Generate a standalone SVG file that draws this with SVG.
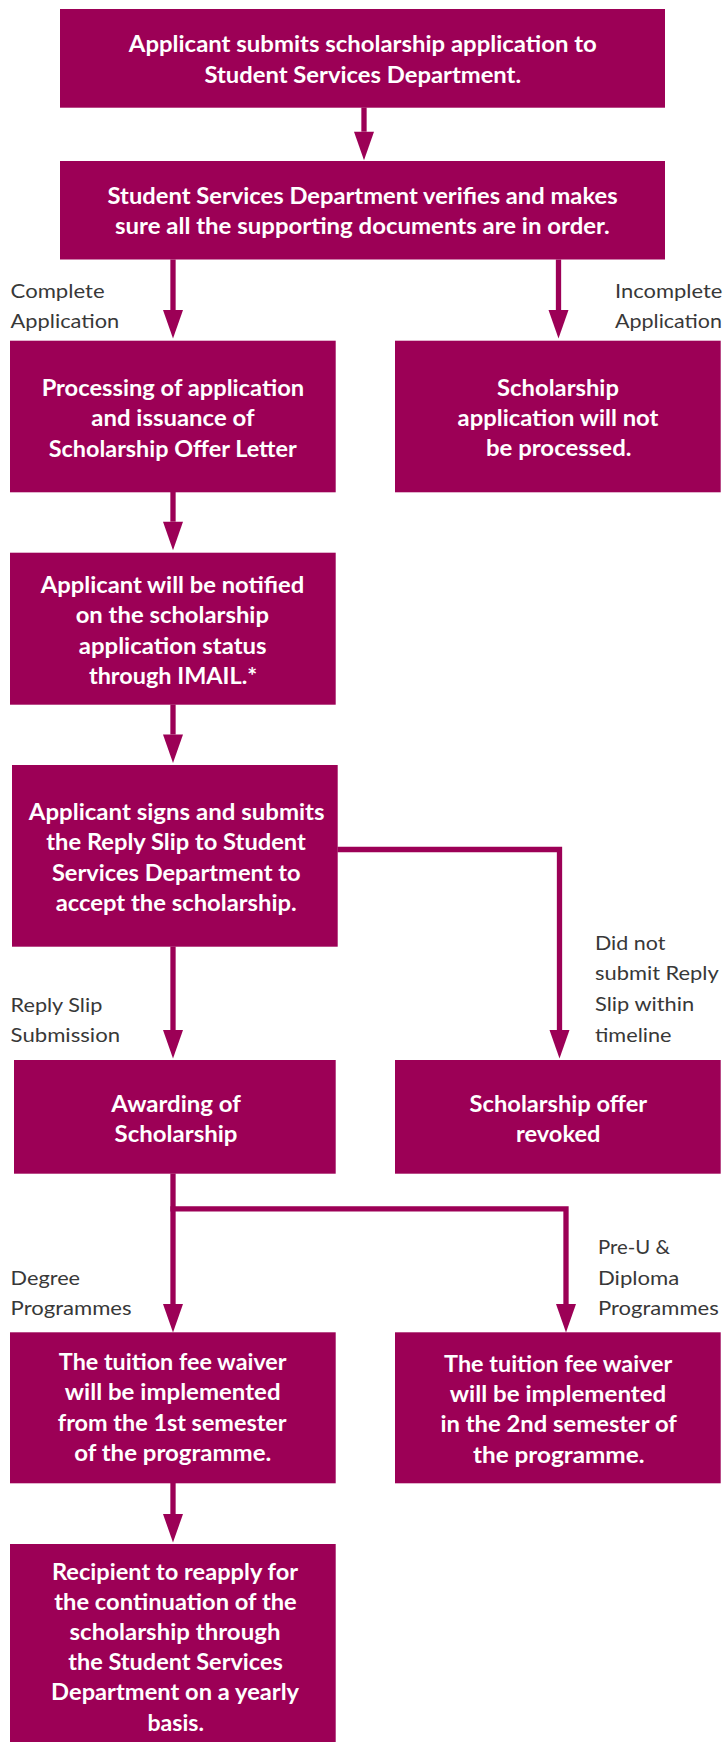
<svg xmlns="http://www.w3.org/2000/svg" width="727" height="1742" viewBox="0 0 727 1742">
<style>
.box{fill:#9C0056}
.t{font-family:Lato,"Liberation Sans",sans-serif;font-weight:700;font-size:22px;fill:#ffffff;text-anchor:middle}
.l{font-family:Lato,"Liberation Sans",sans-serif;font-weight:400;font-size:20px;fill:#383838}
.c{fill:none;stroke:#9C0056;stroke-width:5.3}
</style>
<defs>
<marker id="ah" markerUnits="userSpaceOnUse" markerWidth="30" markerHeight="22" refX="0" refY="11" orient="auto" overflow="visible">
<path d="M0,1 L28.5,11 L0,21 Z" fill="#9C0056"/>
</marker>
</defs>
<rect width="727" height="1742" fill="#ffffff"/>
<g id="connectors">
<path class="c" d="M364,107.5 V131.7" marker-end="url(#ah)"/>
<path class="c" d="M173,259.5 V310" marker-end="url(#ah)"/>
<path class="c" d="M558.5,259.5 V310" marker-end="url(#ah)"/>
<path class="c" d="M173,492 V521.7" marker-end="url(#ah)"/>
<path class="c" d="M173,704.5 V734.5" marker-end="url(#ah)"/>
<path class="c" d="M173,946.5 V1030" marker-end="url(#ah)"/>
<path class="c" d="M337.5,849.5 H559.5 V1030" marker-end="url(#ah)"/>
<path class="c" d="M173,1173.5 V1304" marker-end="url(#ah)"/>
<path class="c" d="M170.4,1208.8 H566 V1304" marker-end="url(#ah)"/>
<path class="c" d="M173,1483 V1514" marker-end="url(#ah)"/>
</g>
<g id="labels">
<text class="l" x="10.6" y="298.3" textLength="94" lengthAdjust="spacingAndGlyphs">Complete</text>
<text class="l" x="10.6" y="328.3" textLength="108.6" lengthAdjust="spacingAndGlyphs">Application</text>
<text class="l" x="615" y="298.3" textLength="107.3" lengthAdjust="spacingAndGlyphs">Incomplete</text>
<text class="l" x="615" y="328.3" textLength="107" lengthAdjust="spacingAndGlyphs">Application</text>
<text class="l" x="10.6" y="1011.5" textLength="91.7" lengthAdjust="spacingAndGlyphs">Reply Slip</text>
<text class="l" x="10.6" y="1042" textLength="109.5" lengthAdjust="spacingAndGlyphs">Submission</text>
<text class="l" x="595" y="950" textLength="70.4" lengthAdjust="spacingAndGlyphs">Did not</text>
<text class="l" x="595" y="980" textLength="123.8" lengthAdjust="spacingAndGlyphs">submit Reply</text>
<text class="l" x="595" y="1010.5" textLength="99.2" lengthAdjust="spacingAndGlyphs">Slip within</text>
<text class="l" x="595" y="1041.5" textLength="76.5" lengthAdjust="spacingAndGlyphs">timeline</text>
<text class="l" x="10.6" y="1285" textLength="69.5" lengthAdjust="spacingAndGlyphs">Degree</text>
<text class="l" x="10.6" y="1315" textLength="121" lengthAdjust="spacingAndGlyphs">Programmes</text>
<text class="l" x="598" y="1254" textLength="71.9" lengthAdjust="spacingAndGlyphs">Pre-U &amp;</text>
<text class="l" x="598" y="1285" textLength="81.3" lengthAdjust="spacingAndGlyphs">Diploma</text>
<text class="l" x="598" y="1315" textLength="120.7" lengthAdjust="spacingAndGlyphs">Programmes</text>
</g>
<g id="n1">
<rect class="box" x="60" y="9" width="605" height="98.7"/>
<text class="t" x="362.8" y="52" textLength="467.9" lengthAdjust="spacingAndGlyphs">Applicant submits scholarship application to</text>
<text class="t" x="362.8" y="82.5" textLength="316.7" lengthAdjust="spacingAndGlyphs">Student Services Department.</text>
</g>
<g id="n2">
<rect class="box" x="60" y="161" width="605" height="98.5"/>
<text class="t" x="362.6" y="204" textLength="510" lengthAdjust="spacingAndGlyphs">Student Services Department verifies and makes</text>
<text class="t" x="362.4" y="234" textLength="494.7" lengthAdjust="spacingAndGlyphs">sure all the supporting documents are in order.</text>
</g>
<g id="n3">
<rect class="box" x="10" y="340.7" width="325.7" height="151.6"/>
<text class="t" x="172.9" y="396" textLength="262.5" lengthAdjust="spacingAndGlyphs">Processing of application</text>
<text class="t" x="172.9" y="426" textLength="163.2" lengthAdjust="spacingAndGlyphs">and issuance of</text>
<text class="t" x="172.7" y="456.5" textLength="248" lengthAdjust="spacingAndGlyphs">Scholarship Offer Letter</text>
</g>
<g id="n4">
<rect class="box" x="395" y="340.7" width="325.7" height="151.6"/>
<text class="t" x="558" y="396" textLength="121.9" lengthAdjust="spacingAndGlyphs">Scholarship</text>
<text class="t" x="558" y="426" textLength="200.8" lengthAdjust="spacingAndGlyphs">application will not</text>
<text class="t" x="558.7" y="456" textLength="145.6" lengthAdjust="spacingAndGlyphs">be processed.</text>
</g>
<g id="n5">
<rect class="box" x="10" y="552.7" width="325.7" height="152"/>
<text class="t" x="172.5" y="593" textLength="263.4" lengthAdjust="spacingAndGlyphs">Applicant will be notified</text>
<text class="t" x="172.3" y="623" textLength="193.3" lengthAdjust="spacingAndGlyphs">on the scholarship</text>
<text class="t" x="172.7" y="654" textLength="187.9" lengthAdjust="spacingAndGlyphs">application status</text>
<text class="t" x="173.1" y="684" textLength="168.3" lengthAdjust="spacingAndGlyphs">through IMAIL.*</text>
</g>
<g id="n6">
<rect class="box" x="12" y="765" width="325.7" height="181.7"/>
<text class="t" x="176.7" y="820" textLength="295.8" lengthAdjust="spacingAndGlyphs">Applicant signs and submits</text>
<text class="t" x="176.1" y="850" textLength="259.6" lengthAdjust="spacingAndGlyphs">the Reply Slip to Student</text>
<text class="t" x="176.2" y="880.5" textLength="248.6" lengthAdjust="spacingAndGlyphs">Services Department to</text>
<text class="t" x="176.2" y="910.5" textLength="241" lengthAdjust="spacingAndGlyphs">accept the scholarship.</text>
</g>
<g id="n7">
<rect class="box" x="14" y="1060" width="321.7" height="113.7"/>
<text class="t" x="176.1" y="1111.5" textLength="129.8" lengthAdjust="spacingAndGlyphs">Awarding of</text>
<text class="t" x="176" y="1141.5" textLength="122.9" lengthAdjust="spacingAndGlyphs">Scholarship</text>
</g>
<g id="n8">
<rect class="box" x="395" y="1060" width="325.7" height="113.7"/>
<text class="t" x="558.4" y="1111.5" textLength="177.6" lengthAdjust="spacingAndGlyphs">Scholarship offer</text>
<text class="t" x="558.2" y="1141.5" textLength="84.4" lengthAdjust="spacingAndGlyphs">revoked</text>
</g>
<g id="n9">
<rect class="box" x="10" y="1332.3" width="325.7" height="151"/>
<text class="t" x="172.7" y="1370" textLength="227.7" lengthAdjust="spacingAndGlyphs">The tuition fee waiver</text>
<text class="t" x="172.7" y="1400" textLength="215.7" lengthAdjust="spacingAndGlyphs">will be implemented</text>
<text class="t" x="172.2" y="1430.5" textLength="228.7" lengthAdjust="spacingAndGlyphs">from the 1st semester</text>
<text class="t" x="172.7" y="1460.5" textLength="197" lengthAdjust="spacingAndGlyphs">of the programme.</text>
</g>
<g id="n10">
<rect class="box" x="395" y="1332.3" width="325.7" height="151"/>
<text class="t" x="558.2" y="1371.5" textLength="228.2" lengthAdjust="spacingAndGlyphs">The tuition fee waiver</text>
<text class="t" x="558" y="1401.5" textLength="216.5" lengthAdjust="spacingAndGlyphs">will be implemented</text>
<text class="t" x="558.7" y="1432" textLength="236.4" lengthAdjust="spacingAndGlyphs">in the 2nd semester of</text>
<text class="t" x="558.7" y="1462.5" textLength="171.5" lengthAdjust="spacingAndGlyphs">the programme.</text>
</g>
<g id="n11">
<rect class="box" x="10" y="1544" width="325.7" height="198"/>
<text class="t" x="175" y="1579.5" textLength="246.2" lengthAdjust="spacingAndGlyphs">Recipient to reapply for</text>
<text class="t" x="175.5" y="1609.5" textLength="242.5" lengthAdjust="spacingAndGlyphs">the continuation of the</text>
<text class="t" x="175" y="1640" textLength="210.9" lengthAdjust="spacingAndGlyphs">scholarship through</text>
<text class="t" x="175.5" y="1670" textLength="214.6" lengthAdjust="spacingAndGlyphs">the Student Services</text>
<text class="t" x="175.1" y="1700" textLength="248" lengthAdjust="spacingAndGlyphs">Department on a yearly</text>
<text class="t" x="175.7" y="1730.5" textLength="56.5" lengthAdjust="spacingAndGlyphs">basis.</text>
</g>
</svg>
